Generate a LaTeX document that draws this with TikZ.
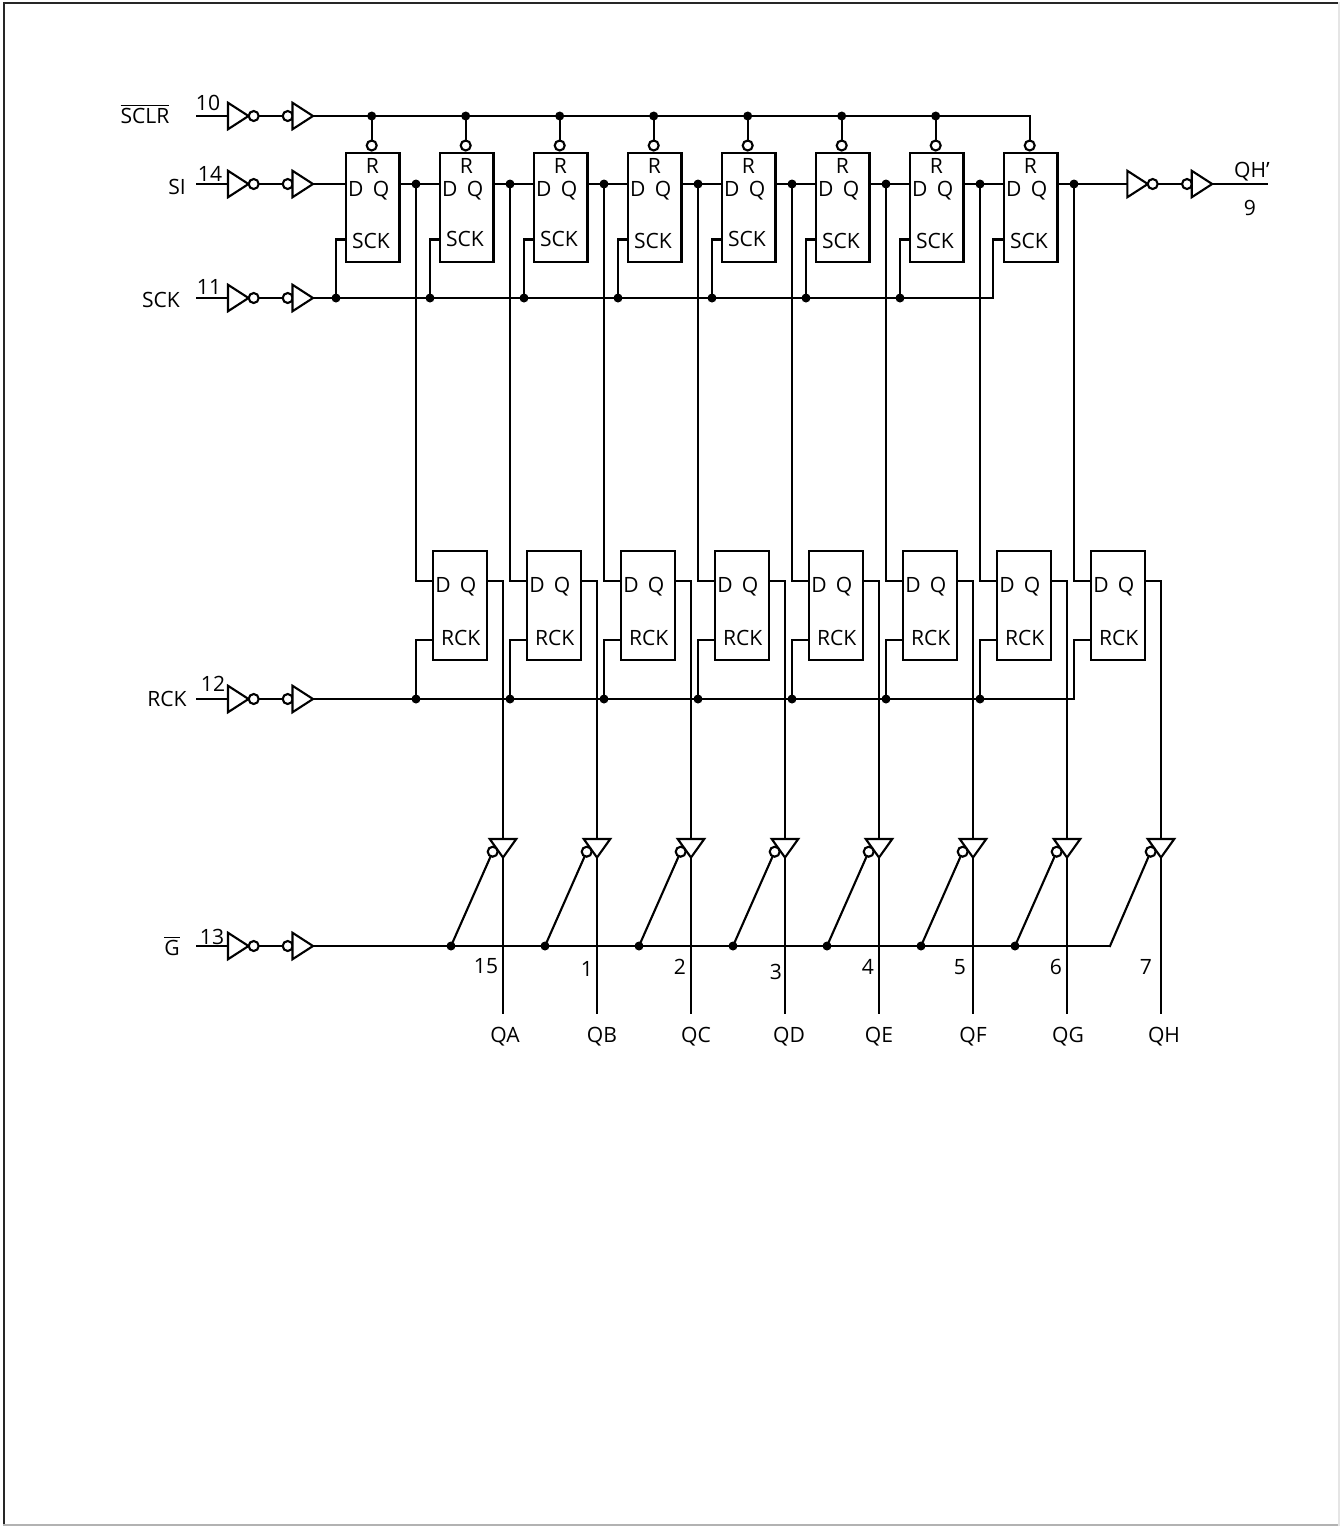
\documentclass[tikz,border=0pt]{standalone}
\usepackage{fontspec}
\setmainfont{Open Sans}
\usetikzlibrary{calc,positioning,shapes.geometric}
\begin{document}
\begin{tikzpicture}[x=0.02cm,y=-0.02cm,line width=1.2pt,line cap=rect]

\tikzstyle{ffbox}=[draw, rectangle, minimum width=1.07cm, minimum height=2.17cm, inner sep=0pt, outer sep=0pt]
\tikzstyle{gate}=[draw, fill=white, isosceles triangle, isosceles triangle stretches, minimum height=0.41cm, minimum width=0.53cm, inner sep=0pt, outer sep=0pt, anchor=lower side]
\tikzstyle{bubble}=[draw, fill=white, circle, minimum size=0.2cm, inner sep=0pt, outer sep=0pt]
\tikzstyle{dot}=[fill=black, circle, minimum size=0.18cm, inner sep=0pt, outer sep=0pt]
\tikzstyle{lbl}=[inner sep=0pt, text height=8.6pt, text depth=0pt, font=\fontsize{12}{14}\selectfont]

\useasboundingbox (0,0) rectangle (1340,1526);
\coordinate (nw) at (4,3);
\coordinate (ne) at (1339,3);
\coordinate (sw) at (4,1525);
\coordinate (se) at (1339,1525);
\draw[black!85!white, line width=1.5pt] (sw) -- (nw) -- (ne);
\draw[black!30!white, line width=1pt] (sw) -- (se);
\draw[black!10!white, line width=1pt] (se) -- (ne);

% input gate pairs
\foreach \n/\y/\p/\px/\py in {clr/116/10/208/103, si/184/14/210/174, sck/298/11/209/287, rck/699/12/213/684, en/946/13/212/936.5}{
  \coordinate (\n in) at (197,\y);
  \node[gate] (\n a) at (228,\y) {};
  \node[bubble] (\n b) at (253.7,\y) {};
  \node[bubble] (\n c) at (287.7,\y) {};
  \node[gate] (\n d) at (292.5,\y) {};
  \node[lbl] (\n p) at (\px,\py) {\p};
  \draw (\n in) -- (\n a.lower side);
  \draw (\n b) -- (\n c);
}

\node[lbl] (sclrname) at (145,116) {$\overline{\mbox{SCLR}}$};
\node[lbl] (siname) at (177,187) {SI};
\node[lbl] (sckname) at (161,300) {SCK};
\node[lbl] (rckname) at (167,699) {RCK};
\node[lbl] (enname) at (172,948) {$\overline{\mbox{G}}$};

% shift register row
\foreach \i/\ys in {1/241,2/239,3/239,4/241,5/239,6/241,7/241,8/241}{
  \node[ffbox] (ff\i) at ({372.7+94*(\i-1)},207.5) {};
  \node[lbl] (fr\i) at ({372.5+94*(\i-1)},166) {R};
  \node[lbl] (fd\i) at ({355.7+94*(\i-1)},188.5) {D};
  \node[lbl] (fq\i) at ({381+94*(\i-1)},188.5) {Q};
  \node[lbl] (fs\i) at ({371+94*(\i-1)},\ys) {SCK};
  \node[bubble] (rb\i) at ({371.7+94*(\i-1)},145.5) {};
  \node[dot] (dq\i) at ({416+94*(\i-1)},184) {};
  \coordinate (fc\i) at ({346+94*(\i-1)},239.5);
  \draw (ff\i.east |- dq\i) -- (dq\i);
}
\foreach \i in {1,...,7}{
  \node[dot] (dr\i) at ({371.7+94*(\i-1)},116) {};
  \node[dot] (ds\i) at ({336+94*(\i-1)},298) {};
  \draw (dr\i) -- (rb\i);
}
\coordinate (dr8) at (1029.7,116);
\coordinate (ds8) at (993,298);
\draw (dr8) -- (rb8);
\draw (clrd.apex) -- (dr1);
\draw (sckd.apex) -- (ds1);
\draw (sid.apex) -- (ff1.west |- sid.apex);
\foreach \i/\j in {1/2,2/3,3/4,4/5,5/6,6/7,7/8}{
  \draw (dr\i) -- (dr\j);
  \draw (ds\i) -- (ds\j);
  \draw (dq\i) -- (ff\j.west |- dq\i);
}
\foreach \i in {1,...,8}{\draw (ds\i) |- (fc\i);}

% output gates of QH'
\node[gate] (oa) at (1127.3,184) {};
\node[bubble] (ob) at (1152.7,184) {};
\node[bubble] (oc) at (1187,184) {};
\node[gate] (od) at (1191.7,184) {};
\coordinate (oe) at (1267,184);
\draw (dq8) -- (oa.lower side);
\draw (ob) -- (oc);
\draw (od.apex) -- (oe);
\node[lbl] (oname) at (1252,170) {QH’};
\node[lbl] (opin) at (1250,208) {9};

% storage row
\foreach \i in {1,...,8}{
  \node[ffbox] (rf\i) at ({460+94*(\i-1)},605.5) {};
  \node[lbl] (rd\i) at ({443+94*(\i-1)},585) {D};
  \node[lbl] (rq\i) at ({468+94*(\i-1)},585) {Q};
  \node[lbl] (rs\i) at ({460.7+94*(\i-1)},637.5) {RCK};
  \coordinate (di\i) at ({433+94*(\i-1)},581);
  \coordinate (do\i) at ({487+94*(\i-1)},581);
  \coordinate (ci\i) at ({433+94*(\i-1)},640);
  \draw (dq\i) |- (di\i);
}
\foreach \i in {1,...,7}{\node[dot] (dk\i) at ({416+94*(\i-1)},699) {};}
\coordinate (dk8) at (1074,699);
\draw (rckd.apex) -- (dk1);
\foreach \i/\j in {1/2,2/3,3/4,4/5,5/6,6/7,7/8}{\draw (dk\i) -- (dk\j);}
\foreach \i in {1,...,8}{\draw (dk\i) |- (ci\i);}

% three-state outputs
\foreach \i/\pin/\px/\py/\nm/\nx in {1/15/486/965.5/QA/505, 2/1/587/969/QB/602, 3/2/680/967/QC/696, 4/3/776/972/QD/789, 5/4/868/967/QE/879, 6/5/960/967/QF/973, 7/6/1056/967/QG/1068, 8/7/1146/967/QH/1164}{
  \node[gate, shape border rotate=-90, minimum height=0.37cm] (tb\i) at ({503+94*(\i-1)},839) {};
  \node[bubble] (te\i) at ({492.7+94*(\i-1)},851.7) {};
  \coordinate (qe\i) at ({503+94*(\i-1)},1013);
  \node[lbl] (tp\i) at (\px,\py) {\pin};
  \node[lbl] (tn\i) at (\nx,1034.5) {\nm};
  \draw (do\i) -| (tb\i.lower side);
  \draw (tb\i.apex) -- (qe\i);
}
\foreach \i in {1,...,7}{\node[dot] (de\i) at ({451+94*(\i-1)},946) {};}
\coordinate (de8) at (1110,946);
\draw (end.apex) -- (de1);
\foreach \i/\j in {1/2,2/3,3/4,4/5,5/6,6/7,7/8}{\draw (de\i) -- (de\j);}
\foreach \i in {1,...,8}{\draw (de\i) -- (te\i);}

\end{tikzpicture}
\end{document}
